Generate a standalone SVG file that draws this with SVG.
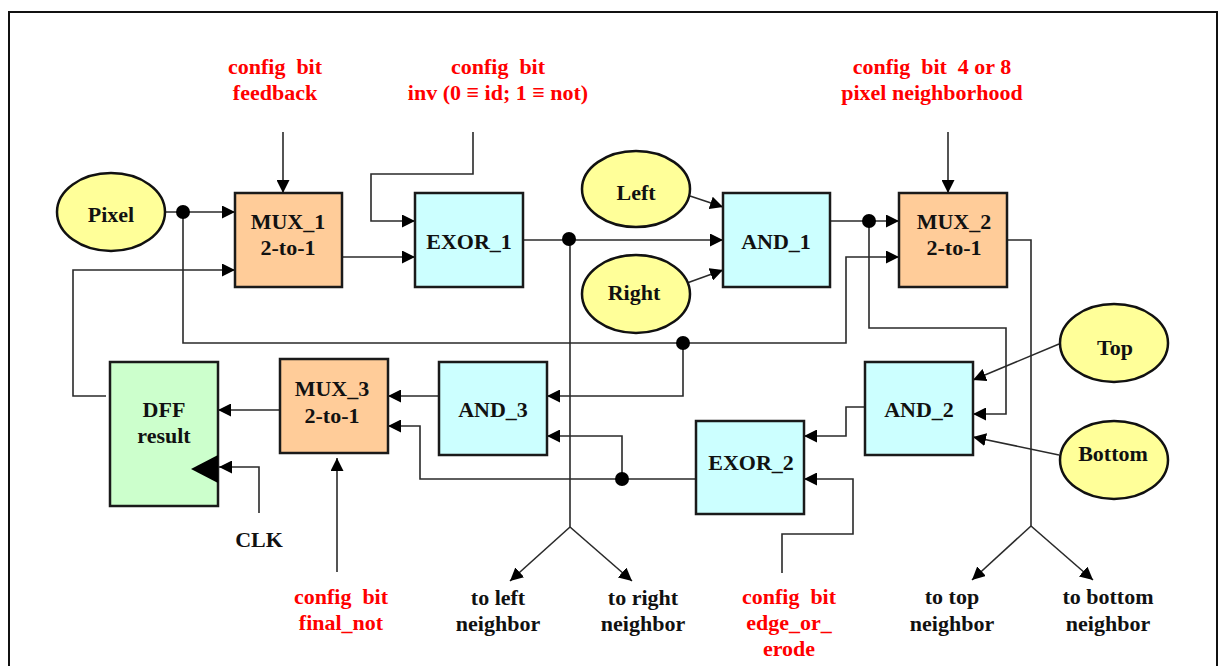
<svg xmlns="http://www.w3.org/2000/svg" width="1220" height="666" viewBox="0 0 1220 666">
<style>
text{font-family:"Liberation Serif","Times New Roman","DejaVu Serif",serif;font-weight:bold;font-size:22px;text-anchor:middle;white-space:pre}
.red{fill:#ff0000}
.blk{fill:#111}
.box{stroke:#1a1a1a;stroke-width:2.5}
.mux{fill:#ffcc99}
.gate{fill:#ccffff}
.dff{fill:#ccffcc}
.ell{fill:#ffff99;stroke:#111;stroke-width:2.5}
.c{fill:none;stroke:#2a2a2a;stroke-width:1.6}
.a{marker-end:url(#arr)}
.dot{fill:#000}
</style>
<defs>
<marker id="arr" markerUnits="userSpaceOnUse" markerWidth="14" markerHeight="13" refX="13" refY="6.5" orient="auto">
<path d="M0,0 L13,6.5 L0,13 z" fill="#000"/>
</marker>
</defs>
<rect x="0" y="0" width="1220" height="666" fill="#fff"/>
<rect x="9" y="12" width="1208" height="700" fill="none" stroke="#111" stroke-width="2"/>

<g id="connectors">
<path class="c a" d="M283,132 V193"/>
<path class="c a" d="M165,212 H235"/>
<path class="c a" d="M106,396 H73 V270 H235"/>
<path class="c a" d="M342,257 H415"/>
<path class="c a" d="M473,132 V174 H371 V221 H415"/>
<path class="c a" d="M523,240 H723"/>
<path class="c" d="M570,240 V527"/>
<path class="c a" d="M570,527 L510,581"/>
<path class="c a" d="M570,527 L632,581"/>
<path class="c a" d="M690,196 L723,207"/>
<path class="c a" d="M687,283 L723,270"/>
<path class="c a" d="M830,221 H899"/>
<path class="c a" d="M869,221 V328 H1006 V414 H973"/>
<path class="c a" d="M183,212 V343 H846 V257 H899"/>
<path class="c a" d="M683,343 V396 H547"/>
<path class="c a" d="M439,396 H388"/>
<path class="c a" d="M696,479 H420 V426 H388"/>
<path class="c a" d="M622,479 V436 H547"/>
<path class="c a" d="M865,407 H846 V436 H804"/>
<path class="c a" d="M782,573 V534 H853 V479 H804"/>
<path class="c a" d="M1059,344 L973,380"/>
<path class="c a" d="M1059,455 L973,437"/>
<path class="c a" d="M948,132 V193"/>
<path class="c" d="M1007,240 H1031 V526"/>
<path class="c a" d="M1031,526 L972,580"/>
<path class="c a" d="M1031,526 L1093,580"/>
<path class="c a" d="M280,410 H218"/>
<path class="c a" d="M259,513 V467 H219"/>
<path class="c a" d="M337,572 V458"/>
<circle class="dot" cx="183" cy="212" r="7"/>
<circle class="dot" cx="569" cy="239" r="7"/>
<circle class="dot" cx="869" cy="221" r="7"/>
<circle class="dot" cx="683" cy="343" r="7"/>
<circle class="dot" cx="622" cy="479" r="7"/>
</g>

<g id="pixel"><ellipse class="ell" cx="111" cy="212" rx="54" ry="39"/><text class="blk" x="111" y="222">Pixel</text></g>
<g id="mux1"><rect class="box mux" x="235" y="193" width="107" height="94"/><text class="blk" x="288" y="229">MUX_1</text><text class="blk" x="288" y="255">2-to-1</text></g>
<g id="exor1"><rect class="box gate" x="415" y="193" width="108" height="94"/><text class="blk" x="469" y="249">EXOR_1</text></g>
<g id="left"><ellipse class="ell" cx="636" cy="189" rx="54" ry="38"/><text class="blk" x="636" y="200">Left</text></g>
<g id="right"><ellipse class="ell" cx="636" cy="294" rx="54" ry="39"/><text class="blk" x="634" y="300">Right</text></g>
<g id="and1"><rect class="box gate" x="723" y="193" width="107" height="94"/><text class="blk" x="776" y="249">AND_1</text></g>
<g id="mux2"><rect class="box mux" x="899" y="193" width="108" height="94"/><text class="blk" x="954" y="229">MUX_2</text><text class="blk" x="954" y="255">2-to-1</text></g>
<g id="top"><ellipse class="ell" cx="1114" cy="343" rx="54" ry="39"/><text class="blk" x="1115" y="355">Top</text></g>
<g id="bottom"><ellipse class="ell" cx="1114" cy="460" rx="54" ry="39"/><text class="blk" x="1113" y="461">Bottom</text></g>
<g id="and2"><rect class="box gate" x="865" y="362" width="108" height="93"/><text class="blk" x="919" y="417">AND_2</text></g>
<g id="exor2"><rect class="box gate" x="696" y="421" width="108" height="93"/><text class="blk" x="751" y="470">EXOR_2</text></g>
<g id="and3"><rect class="box gate" x="439" y="362" width="108" height="93"/><text class="blk" x="493" y="417">AND_3</text></g>
<g id="mux3"><rect class="box mux" x="280" y="359" width="108" height="94"/><text class="blk" x="332" y="396">MUX_3</text><text class="blk" x="332" y="423">2-to-1</text></g>
<g id="dff"><rect class="box dff" x="110" y="362" width="108" height="144"/><text class="blk" x="164" y="417">DFF</text><text class="blk" x="164" y="443">result</text><polygon points="191,469 218,455 218,483" fill="#000"/></g>

<g id="labels">
<text class="red" x="275" y="74">config  bit</text>
<text class="red" x="275" y="100">feedback</text>
<text class="red" x="498" y="74">config  bit</text>
<text class="red" x="498" y="100">inv (0 ≡ id; 1 ≡ not)</text>
<text class="red" x="932" y="74">config  bit  4 or 8</text>
<text class="red" x="932" y="100">pixel neighborhood</text>
<text class="blk" x="259" y="547">CLK</text>
<text class="red" x="341" y="604">config  bit</text>
<text class="red" x="341" y="630">final_not</text>
<text class="blk" x="498" y="605">to left</text>
<text class="blk" x="498" y="631">neighbor</text>
<text class="blk" x="643" y="605">to right</text>
<text class="blk" x="643" y="631">neighbor</text>
<text class="red" x="789" y="604">config  bit</text>
<text class="red" x="789" y="630">edge_or_</text>
<text class="red" x="789" y="656">erode</text>
<text class="blk" x="952" y="604">to top</text>
<text class="blk" x="952" y="631">neighbor</text>
<text class="blk" x="1108" y="604">to bottom</text>
<text class="blk" x="1108" y="631">neighbor</text>
</g>
</svg>
